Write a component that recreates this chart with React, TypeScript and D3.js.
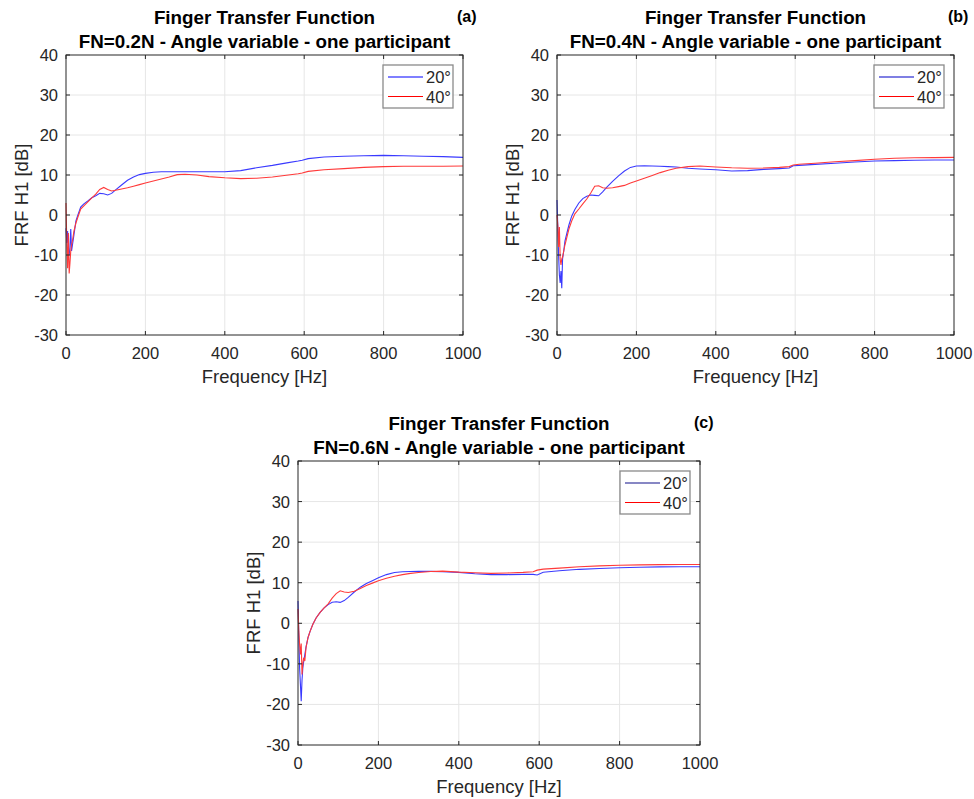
import React from "react";
import * as d3 from "d3";

const FREQ = [0, 2, 4, 6, 8, 10, 12, 14, 17, 20, 25, 30, 37, 45, 55, 65, 75, 85, 95, 105, 115, 125, 140, 155, 170, 185, 200, 220, 240, 260, 280, 300, 330, 360, 400, 440, 480, 520, 560, 585, 595, 610, 650, 700, 750, 800, 850, 900, 950, 1000];

const A_20 = [-3.3, -7, -4, -9, -10, -8, -3.5, -9, -7, -5, -1.5, 0, 2, 2.8, 3.5, 4.3, 4.8, 5.4, 5.3, 5.0, 5.4, 6.3, 7.5, 8.7, 9.5, 10.1, 10.4, 10.7, 10.8, 10.8, 10.8, 10.8, 10.8, 10.8, 10.8, 11.1, 11.8, 12.4, 13.1, 13.5, 13.7, 14.1, 14.5, 14.7, 14.8, 14.9, 14.8, 14.7, 14.6, 14.4];
const A_40 = [3, -7, -13.3, -4.5, -14.6, -12, -9, -7.5, -6, -4, -2, -0.5, 1.5, 2.3, 3.3, 4.3, 5.2, 6.4, 6.9, 6.4, 6.0, 6.2, 6.5, 6.8, 7.2, 7.6, 8.0, 8.5, 9.0, 9.5, 10.1, 10.2, 10.0, 9.6, 9.3, 9.1, 9.2, 9.5, 10.0, 10.3, 10.5, 10.9, 11.3, 11.6, 11.9, 12.1, 12.2, 12.2, 12.2, 12.25];

const B_20 = [3.75, -3, -10, -15, -17, -14, -18.3, -11, -9, -6.5, -4.5, -2.5, -0.3, 1.4, 3, 4.1, 4.7, 5.0, 4.9, 4.8, 5.8, 6.9, 8.4, 9.8, 11.0, 11.9, 12.25, 12.3, 12.25, 12.2, 12.1, 12.0, 11.7, 11.5, 11.3, 11.0, 11.1, 11.4, 11.6, 11.75, 12.3, 12.4, 12.65, 12.95, 13.25, 13.5, 13.6, 13.7, 13.75, 13.75];
const B_40 = [0, -2.5, -8, -3, -11, -12.5, -11, -10.5, -9, -7.5, -5.5, -3.5, -1.5, 0.3, 1.5, 2.8, 4.0, 5.5, 7.2, 7.3, 6.8, 6.7, 6.8, 7.1, 7.4, 8.0, 8.5, 9.2, 9.9, 10.6, 11.2, 11.7, 12.1, 12.25, 12.0, 11.8, 11.7, 11.75, 11.9, 12.1, 12.5, 12.7, 12.95, 13.3, 13.6, 13.95, 14.2, 14.3, 14.35, 14.4];

const C_20 = [5.5, -3, -11, -15, -19.2, -14, -11, -9.5, -7.7, -5.8, -3.5, -2, -0.25, 1.3, 2.7, 3.8, 4.6, 5.2, 5.3, 5.15, 5.6, 6.4, 7.7, 8.9, 9.8, 10.5, 11.2, 12.0, 12.5, 12.7, 12.75, 12.8, 12.8, 12.7, 12.55, 12.2, 12.0, 12.0, 12.05, 12.05, 11.9, 12.6, 12.95, 13.3, 13.5, 13.7, 13.8, 13.9, 13.95, 13.95];
const C_40 = [3.5, -2, -5.2, -7.7, -5, -12.6, -10, -8.5, -9.3, -6, -3.5, -2, -0.25, 1.3, 2.7, 3.8, 4.8, 6.2, 7.3, 8.0, 7.7, 7.6, 7.9, 8.6, 9.3, 9.9, 10.5, 11.1, 11.6, 12.0, 12.3, 12.5, 12.75, 12.85, 12.6, 12.45, 12.3, 12.4, 12.55, 12.7, 13.1, 13.35, 13.6, 13.95, 14.15, 14.3, 14.4, 14.45, 14.5, 14.5];

const X_TICKS = [0, 200, 400, 600, 800, 1000];
const Y_TICKS = [-30, -20, -10, 0, 10, 20, 30, 40];
const TITLE = "Finger Transfer Function";
const SUBTITLES = [
  "FN=0.2N - Angle variable - one participant",
  "FN=0.4N - Angle variable - one participant",
  "FN=0.6N - Angle variable - one participant",
];
const TAGS = ["(a)", "(b)", "(c)"];
const LEGEND_LABELS = ["20°", "40°"];
const X_LABEL = "Frequency [Hz]";
const Y_LABEL = "FRF H1 [dB]";

const FONT = "'Liberation Sans', Arial, Helvetica, sans-serif";
const AXIS_COLOR = "#262626";
const GRID_COLOR = "#e6e6e6";

type PanelProps = {
  left: number;
  top: number;
  right: number;
  bottom: number;
  s20: number[];
  s40: number[];
  subtitle: string;
  tag: string;
  legend20: string;
};

function Panel({ left, top, right, bottom, s20, s40, subtitle, tag, legend20 }: PanelProps) {
  const x = d3.scaleLinear().domain([0, 1000]).range([left, right]);
  const y = d3.scaleLinear().domain([-30, 40]).range([bottom, top]);
  const line = d3
    .line<number>()
    .x((_, i) => x(FREQ[i]))
    .y((d) => y(d));
  const cx = (left + right) / 2;
  const cy = (top + bottom) / 2;
  const lgRight = right - 10;
  const lgTop = top + 10;
  const lgW = 70;
  const lgH = 43;
  const lgLeft = lgRight - lgW;
  return (
    <g>
      {X_TICKS.slice(1, -1).map((t) => (
        <line key={"gx" + t} x1={x(t)} x2={x(t)} y1={top} y2={bottom} stroke={GRID_COLOR} strokeWidth={1} />
      ))}
      {Y_TICKS.slice(1, -1).map((t) => (
        <line key={"gy" + t} x1={left} x2={right} y1={y(t)} y2={y(t)} stroke={GRID_COLOR} strokeWidth={1} />
      ))}
      <path d={line(s20) || ""} fill="none" stroke="#3a3aff" strokeWidth={1.1} />
      <path d={line(s40) || ""} fill="none" stroke="#ff3a3a" strokeWidth={1.1} />
      <rect x={left} y={top} width={right - left} height={bottom - top} fill="none" stroke={AXIS_COLOR} strokeWidth={1} />
      {X_TICKS.map((t) => (
        <g key={"tx" + t}>
          <line x1={x(t)} x2={x(t)} y1={bottom} y2={bottom - 4} stroke={AXIS_COLOR} />
          <line x1={x(t)} x2={x(t)} y1={top} y2={top + 4} stroke={AXIS_COLOR} />
          <text x={x(t)} y={bottom + 24} textAnchor="middle" fontSize={16.5} fill={AXIS_COLOR} fontFamily={FONT}>
            {t}
          </text>
        </g>
      ))}
      {Y_TICKS.map((t) => (
        <g key={"ty" + t}>
          <line x1={left} x2={left + 4} y1={y(t)} y2={y(t)} stroke={AXIS_COLOR} />
          <line x1={right} x2={right - 4} y1={y(t)} y2={y(t)} stroke={AXIS_COLOR} />
          <text x={left - 8} y={y(t) + 6} textAnchor="end" fontSize={16.5} fill={AXIS_COLOR} fontFamily={FONT}>
            {t}
          </text>
        </g>
      ))}
      <text x={cx} y={bottom + 48} textAnchor="middle" fontSize={18.5} fill={AXIS_COLOR} fontFamily={FONT}>
        {X_LABEL}
      </text>
      <text
        transform={`translate(${left - 38},${cy}) rotate(-90)`}
        textAnchor="middle"
        fontSize={18.5}
        fill={AXIS_COLOR}
        fontFamily={FONT}
      >
        {Y_LABEL}
      </text>
      <text x={cx} y={top - 31} textAnchor="middle" fontSize={18.8} fontWeight="bold" fill="#000" fontFamily={FONT}>
        {TITLE}
      </text>
      <text x={cx} y={top - 7.5} textAnchor="middle" fontSize={18.8} fontWeight="bold" fill="#000" fontFamily={FONT}>
        {subtitle}
      </text>
      <text x={right - 6} y={top - 33} fontSize={16} fontWeight="bold" fill="#000" fontFamily={FONT}>
        {tag}
      </text>
      <rect x={lgLeft} y={lgTop} width={lgW} height={lgH} fill="#fff" stroke="#8a8a8a" strokeWidth={1.3} />
      <line x1={lgLeft + 5} x2={lgLeft + 40} y1={lgTop + 12} y2={lgTop + 12} stroke={legend20} strokeWidth={1.2} />
      <line x1={lgLeft + 5} x2={lgLeft + 40} y1={lgTop + 31.5} y2={lgTop + 31.5} stroke="#ff0000" strokeWidth={1.2} />
      <text x={lgLeft + 43} y={lgTop + 18} fontSize={16.5} fill={AXIS_COLOR} fontFamily={FONT}>
        {LEGEND_LABELS[0]}
      </text>
      <text x={lgLeft + 43} y={lgTop + 37.5} fontSize={16.5} fill={AXIS_COLOR} fontFamily={FONT}>
        {LEGEND_LABELS[1]}
      </text>
    </g>
  );
}

export default function App() {
  return (
    <div style={{ position: "absolute", left: 0, top: 0 }}>
      <svg width={974} height={799} style={{ display: "block", background: "#fff" }}>
        <rect width={974} height={799} fill="#fff" />
        <Panel left={66} top={55} right={463} bottom={335} s20={A_20} s40={A_40} subtitle={SUBTITLES[0]} tag={TAGS[0]} legend20="#0000ff" />
        <Panel left={557} top={55} right={954} bottom={335} s20={B_20} s40={B_40} subtitle={SUBTITLES[1]} tag={TAGS[1]} legend20="#0000c8" />
        <Panel left={298} top={461} right={700} bottom={745} s20={C_20} s40={C_40} subtitle={SUBTITLES[2]} tag={TAGS[2]} legend20="#10108a" />
      </svg>
    </div>
  );
}
